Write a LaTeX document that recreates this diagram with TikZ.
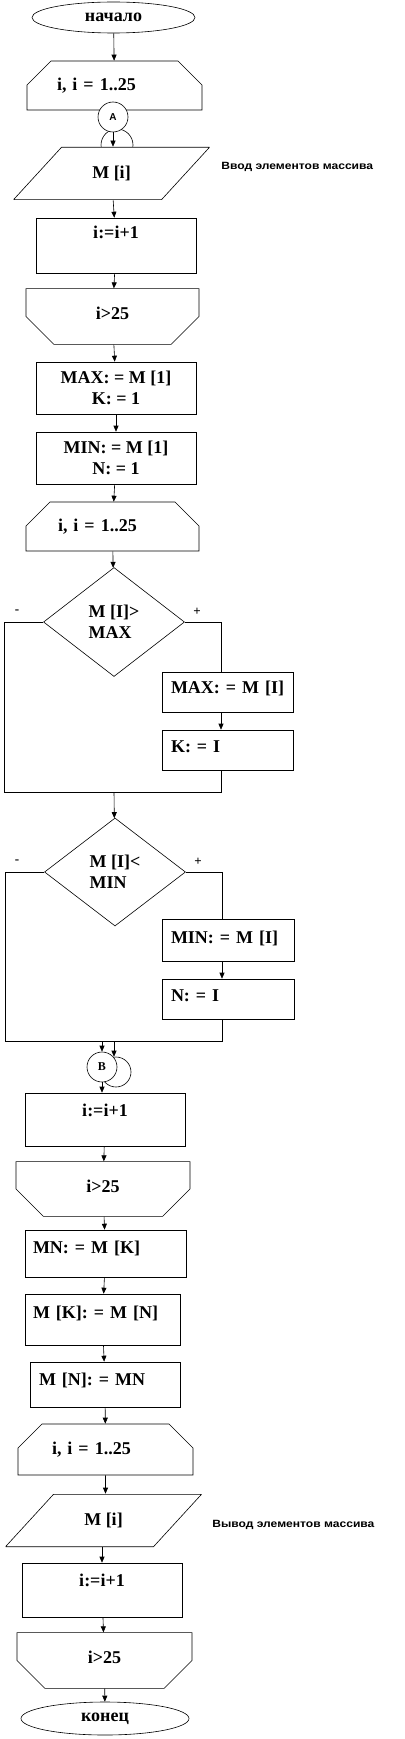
\documentclass[tikz,border=0pt]{standalone}
\usepackage{fontspec}
\setmainfont{Liberation Serif}
\setsansfont{Liberation Sans}
\usetikzlibrary{positioning, arrows.meta, shapes.geometric, shapes.misc}

\begin{document}
\begin{tikzpicture}[
        x = 1pt, y = -1pt,
        every node/.style = {
            draw,
            fill = white,
            align = center,
            line width = 0.6pt,
            font = \frenchspacing\bfseries\fontsize{18}{21}\selectfont
        },
        terminal/.style = {
            ellipse,
            inner sep = 0pt
        },
        block/.style = {
            rectangle,
            minimum width = 160pt,
            minimum height = 52pt
        },
        loopbegin/.style = {
            chamfered rectangle,
            chamfered rectangle corners = {north west, north east},
            chamfered rectangle xsep = 18pt,
            chamfered rectangle ysep = 13pt,
            minimum width = 175pt,
            minimum height = 50pt
        },
        loopend/.style = {
            chamfered rectangle,
            chamfered rectangle corners = {south west, south east},
            chamfered rectangle xsep = 16pt,
            chamfered rectangle ysep = 15pt,
            minimum width = 174pt,
            minimum height = 51pt
        },
        io/.style = {
            rectangle,
            draw = none,
            minimum width = 196pt,
            minimum height = 53pt,
            path picture = {
                \draw[link] ([xshift = 48pt, yshift = -0.3pt]path picture bounding box.north west)
                    -- ([yshift = -0.3pt]path picture bounding box.north east)
                    -- ([xshift = -48pt, yshift = 0.3pt]path picture bounding box.south east)
                    -- ([yshift = 0.3pt]path picture bounding box.south west) -- cycle;
            }
        },
        decision/.style = {
            diamond,
            align = left,
            inner sep = 0pt,
            minimum width = 141pt,
            minimum height = 109pt
        },
        connector/.style = {
            circle,
            minimum size = 30pt,
            inner sep = 0pt,
            font = \bfseries\sffamily\fontsize{10}{11}\selectfont
        },
        note/.style = {
            draw = none,
            fill = none,
            inner sep = 0pt,
            font = \frenchspacing\bfseries\sffamily\fontsize{10.5}{11}\selectfont
        },
        sign/.style = {
            draw = none,
            fill = none,
            font = \bfseries\fontsize{13}{13}\selectfont
        },
        lift/.style = {text height = 12pt, text depth = #1},
        indent/.style = {align = left, text width = #1},
        flow/.style = {-{Triangle[length = 6pt, width = 5pt]}, line width = 0.6pt},
        link/.style = {line width = 0.6pt}
    ]
    \useasboundingbox (0, 0) rectangle (404, 1739);

    % input of the array
    \node[terminal, minimum width = 163pt, minimum height = 31pt] (start) at (113.5, 17.5) {начало};
    \node[loopbegin, minimum height = 49pt, indent = 115pt] (for1) at (114.5, 85.5) {i, i = 1..25};
    \node[connector, minimum size = 32pt] (conA2) at (117, 145) {};
    \node[io] (in1) at (111.5, 173.5) {M [i]};
    \node[connector] (conA) at (113, 117) {А};
    \node[note, anchor = west] (note1) at (221, 167) {\scalebox{1.15}[1]{Ввод элементов массива}};
    \node[block, minimum height = 55pt, lift = 27pt] (inc1) at (116, 245.5) {i:=i+1};
    \node[loopend, minimum width = 173pt, lift = 7pt] (end1) at (112.5, 316.5) {i>25};
    \node[block] (init1) at (116, 388) {MAX: = M [1] \\ K: = 1};
    \node[block] (init2) at (116, 458) {MIN: = M [1] \\ N: = 1};

    % search of max and min
    \node[loopbegin, minimum width = 173pt, minimum height = 49pt, indent = 109pt] (for2) at (112.5, 526.5) {i, i = 1..25};
    \node[decision] (cmp1) at (114, 622) {M [I]> \\ MAX};
    \node[block, minimum width = 131pt, minimum height = 40pt, indent = 113pt, lift = 10pt] (setmax) at (227.5, 692) {MAX:~=~M~[I]};
    \node[block, minimum width = 131pt, minimum height = 40pt, indent = 113pt, lift = 8pt] (setk) at (227.5, 750) {K: = I};
    \node[sign] (minus1) at (17, 612) {-};
    \node[sign] (plus1) at (197, 612) {+};
    \coordinate (yes1) at (221, 622);
    \coordinate (no1) at (4, 792);
    \coordinate (join1) at (114, 792);

    \node[decision, minimum height = 108pt] (cmp2) at (115, 872) {M [I]< \\ MIN};
    \node[block, minimum width = 132pt, minimum height = 42pt, indent = 114pt, lift = 6pt] (setmin) at (228, 940) {MIN:~=~M~[I]};
    \node[block, minimum width = 132pt, minimum height = 40pt, indent = 114pt, lift = 8pt] (setn) at (228, 999) {N: = I};
    \node[sign] (minus2) at (17, 862) {-};
    \node[sign] (plus2) at (198, 862) {+};
    \coordinate (yes2) at (222, 872);
    \coordinate (no2) at (5, 1041);
    \coordinate (join2) at (114, 1041);

    \node[connector] (conB2) at (116, 1072) {};
    \node[connector, font = \bfseries\fontsize{12}{12}\selectfont] (conB) at (102, 1067) {В};
    \node[block, minimum height = 53pt, lift = 19pt] (inc2) at (105, 1119.5) {i:=i+1};
    \node[loopend, lift = 6pt] (end2) at (103, 1189) {i>25};

    % swap and output
    \node[block, minimum width = 161pt, minimum height = 47pt, indent = 145pt, lift = 13pt] (swap1) at (105.5, 1253.5) {MN: = M [K]};
    \node[block, minimum width = 155pt, minimum height = 51pt, indent = 139pt, lift = 15pt] (swap2) at (102.5, 1319.5) {M [K]: = M [N]};
    \node[block, minimum width = 150pt, minimum height = 45pt, indent = 132pt, lift = 11pt] (swap3) at (105, 1384.5) {M [N]: = MN};
    \node[loopbegin, minimum height = 51pt, indent = 107pt] (for3) at (105.5, 1449.5) {i, i = 1..25};
    \node[io] (out1) at (103.5, 1520.5) {M [i]};
    \node[note, anchor = west] (note2) at (212, 1525) {\scalebox{1.15}[1]{Вывод элементов массива}};
    \node[block, minimum height = 54pt, lift = 20pt] (inc3) at (102, 1590) {i:=i+1};
    \node[loopend, minimum width = 175pt, lift = 7pt] (end3) at (104.5, 1660.5) {i>25};
    \node[terminal, minimum width = 168pt, minimum height = 33pt] (stop) at (105, 1718.5) {конец};

    % connectors
    \draw[flow] (start) -- (for1);
    \draw[flow] (conA) -- (conA |- in1.north);
    \draw[flow] (in1) -- (inc1);
    \draw[flow] (inc1) -- (end1);
    \draw[flow] (end1) -- (init1);
    \draw[flow] (init1) -- (init2);
    \draw[flow] (init2) -- (for2);
    \draw[flow] (for2) -- (cmp1);
    \draw[link] (cmp1.east) -- (yes1) -- (yes1 |- setmax.north);
    \draw[flow] (setmax.south -| yes1) -- (setk.north -| yes1);
    \draw[link] (setk.south -| yes1) -- (yes1 |- no1) -- (no1) |- (cmp1.west);
    \draw[flow] (join1) -- (cmp2);
    \draw[link] (cmp2.east) -- (yes2) -- (yes2 |- setmin.north);
    \draw[flow] (setmin.south -| yes2) -- (setn.north -| yes2);
    \draw[link] (setn.south -| yes2) -- (yes2 |- no2) -- (no2) |- (cmp2.west);
    \draw[flow] (no2 -| conB) -- (conB);
    \draw[flow] (join2) -- (join2 |- conB2.north);
    \draw[flow] (conB) -- (conB |- inc2.north);
    \draw[flow] (inc2) -- (end2);
    \draw[flow] (end2) -- (swap1);
    \draw[flow] (swap1) -- (swap2);
    \draw[flow] (swap2) -- (swap3);
    \draw[flow] (swap3) -- (for3);
    \draw[flow] (for3) -- (for3 |- out1.north);
    \draw[flow] (out1.south -| inc3.north) -- (inc3);
    \draw[flow] (inc3) -- (end3);
    \draw[flow] (end3) -- (stop);
\end{tikzpicture}
\end{document}
